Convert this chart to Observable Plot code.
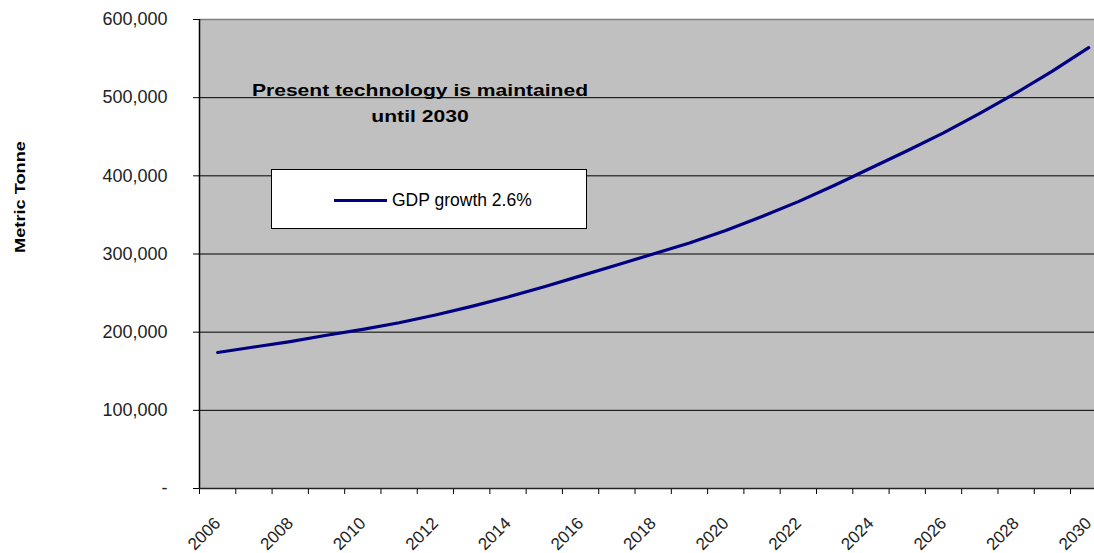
<!DOCTYPE html>
<html>
<head>
<meta charset="utf-8">
<script src="https://cdn.jsdelivr.net/npm/d3@7"></script>
<script src="https://cdn.jsdelivr.net/npm/@observablehq/plot@0.6"></script>
<style>
  html, body { margin: 0; padding: 0; background: #fff; overflow: hidden; }
  #chart { position: relative; width: 1094px; height: 553px; font-family: "Liberation Sans", Arial, sans-serif; }
  #chart svg { position: absolute; left: 0; top: 0; }
  .note {
    position: absolute; left: 170px; width: 500px; top: 78px;
    text-align: center; font-weight: bold; font-size: 17px; line-height: 26px;
    color: #000; transform: scaleX(1.24); transform-origin: 250px 0;
  }
  .legend {
    position: absolute; left: 271px; top: 169px; width: 316px; height: 60px;
    box-sizing: border-box; border: 1px solid #000; background: #fff;
  }
  .legend .swatch { position: absolute; left: 62px; top: 29px; width: 53px; height: 3px; background: #000080; }
  .legend .lab { position: absolute; left: 120px; top: 20px; font-size: 17.5px; line-height: 20px; color: #000; white-space: nowrap; }
  .ytitle {
    position: absolute; left: 20px; top: 197px; transform: translate(-50%, -50%) rotate(-90deg) scaleX(1.3);
    font-weight: bold; font-size: 14px; white-space: nowrap; color: #000;
  }
</style>
</head>
<body>
<div id="chart"></div>
<script>
// ---- data ----
const years = [2006, 2007, 2008, 2009, 2010, 2011, 2012, 2013, 2014, 2015, 2016, 2017, 2018,
               2019, 2020, 2021, 2022, 2023, 2024, 2025, 2026, 2027, 2028, 2029, 2030];
const gdpGrowth26 = [174000, 181000, 188000, 196000, 203500, 212000, 222000, 233000, 245000,
                     258000, 272000, 286000, 300000, 314000, 330000, 348000, 367000, 388000,
                     410000, 432000, 455000, 480000, 506000, 534000, 564000];
const yTicks = [0, 100000, 200000, 300000, 400000, 500000, 600000];
const gridValues = [100000, 200000, 300000, 400000, 500000];
const xLabelYears = ["2006", "2008", "2010", "2012", "2014", "2016", "2018", "2020", "2022", "2024", "2026", "2028", "2030"];
const seriesName = "GDP growth 2.6%";
const yTitle = "Metric Tonne";
const noteLines = ["Present technology is maintained", "until 2030"];

const data = years.map((y, i) => ({year: y, value: gdpGrowth26[i]}));
const boundaries = years.map(y => y - 0.5).concat([years[years.length - 1] + 0.5]);
const fmt = d3.format(",");

const chart = Plot.plot({
  width: 1094,
  height: 553,
  marginLeft: 199,
  marginRight: 0,
  marginTop: 19,
  marginBottom: 65,
  style: {fontFamily: "'Liberation Sans', Arial, sans-serif", fontSize: "18px", color: "#000", background: "transparent", overflow: "visible"},
  x: {type: "linear", domain: [2005.5, 2030.16], axis: null},
  y: {domain: [0, 600000], axis: null},
  marks: [
    Plot.frame({fill: "#c0c0c0", stroke: null}),
    Plot.ruleY(gridValues, {stroke: "#000", strokeWidth: 1}),
    Plot.ruleY([600000], {stroke: "#808080", strokeWidth: 1.5}),
    Plot.axisY(yTicks, {
      anchor: "left", tickSize: 6, tickPadding: 26, stroke: "#000",
      tickFormat: d => d === 0 ? "-" : fmt(d), fontSize: 18, fill: "#222", label: null
    }),
    Plot.axisX(boundaries.filter(b => b <= 2030.16), {
      anchor: "bottom", tickSize: 6, tickFormat: () => "", stroke: "#000", label: null
    }),
    Plot.text(xLabelYears, {
      x: d => +d, text: d => d, frameAnchor: "bottom", dy: 32, rotate: -45,
      textAnchor: "end", lineAnchor: "middle", fontSize: 17, fill: "#222"
    }),
    Plot.ruleX([2005.5], {stroke: "#000", strokeWidth: 1.5}),
    Plot.ruleY([0], {stroke: "#222", strokeWidth: 1.5}),
    Plot.line(data, {x: "year", y: "value", stroke: "#000080", strokeWidth: 3.2, strokeLinejoin: "round", strokeLinecap: "round"})
  ]
});

const root = document.getElementById("chart");
root.appendChild(chart);

const note = document.createElement("div");
note.className = "note";
note.innerHTML = noteLines.join("<br>");
root.appendChild(note);

const legend = document.createElement("div");
legend.className = "legend";
legend.innerHTML = `<span class="swatch"></span><span class="lab">${seriesName}</span>`;
root.appendChild(legend);

const yt = document.createElement("div");
yt.className = "ytitle";
yt.textContent = yTitle;
root.appendChild(yt);
</script>
</body>
</html>
